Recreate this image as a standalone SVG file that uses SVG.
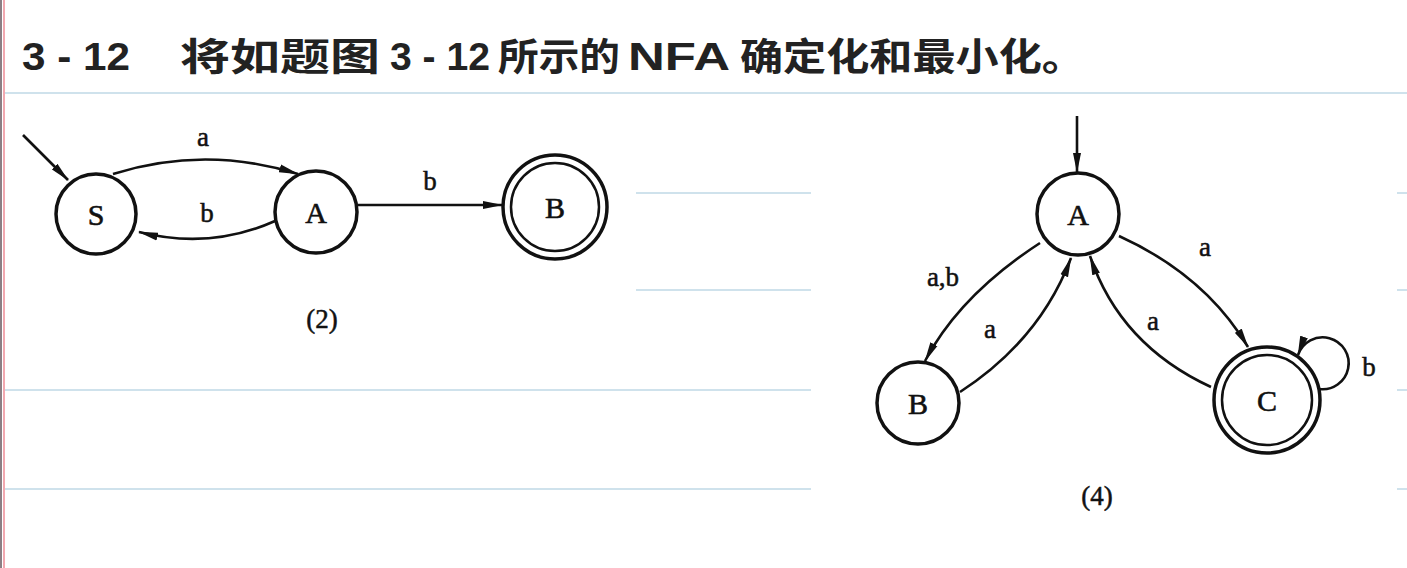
<svg xmlns="http://www.w3.org/2000/svg" width="1407" height="568" viewBox="0 0 1407 568">
<defs>
<marker id="arr" viewBox="0 0 20 9" refX="19" refY="4.5" markerWidth="20" markerHeight="9" orient="auto" markerUnits="userSpaceOnUse"><path d="M0,0.5 L20,4.5 L0,8.5 z" fill="#111"/></marker>
<style>
.st{fill:#fff;stroke:#111;stroke-width:3.5}
.st2{fill:none;stroke:#111;stroke-width:2.5}
.e{fill:none;stroke:#111;stroke-width:2.6;marker-end:url(#arr)}
.lb{font-family:"Liberation Serif",serif;font-size:30px;fill:#111;stroke:#111;stroke-width:0.6;text-anchor:middle}
.el{font-family:"Liberation Serif",serif;font-size:27px;fill:#111;stroke:#111;stroke-width:0.5;text-anchor:middle}
.ti{font-family:"Liberation Sans","Noto Sans CJK SC",sans-serif;font-size:38px;font-weight:bold;fill:#222}
.rule{stroke:#cfe2ec;stroke-width:2}
</style>
</defs>
<rect width="1407" height="568" fill="#fff"/>
<g id="background">
<rect x="0" y="0" width="2" height="568" fill="#8c7f84"/>
<rect x="3" y="0" width="2" height="568" fill="#f2a8b0"/>
<line class="rule" x1="5" y1="93" x2="1407" y2="93"/>
<line class="rule" x1="636" y1="193" x2="811" y2="193"/>
<line class="rule" x1="636" y1="290" x2="811" y2="290"/>
<line class="rule" x1="5" y1="390" x2="811" y2="390"/>
<line class="rule" x1="5" y1="489" x2="811" y2="489"/>
<line class="rule" x1="1397" y1="193" x2="1407" y2="193"/>
<line class="rule" x1="1397" y1="290" x2="1407" y2="290"/>
<line class="rule" x1="1397" y1="390" x2="1407" y2="390"/>
<line class="rule" x1="1397" y1="489" x2="1407" y2="489"/>
</g>
<g id="title">
<text class="ti" x="22" y="70" textLength="108" lengthAdjust="spacingAndGlyphs">3 - 12</text>
<text class="ti" x="180" y="70" textLength="200" lengthAdjust="spacingAndGlyphs">将如题图</text>
<text class="ti" x="390" y="70" textLength="100" lengthAdjust="spacingAndGlyphs">3 - 12</text>
<text class="ti" x="498" y="70" textLength="122" lengthAdjust="spacingAndGlyphs">所示的</text>
<text class="ti" x="628" y="70" textLength="102" lengthAdjust="spacingAndGlyphs">NFA</text>
<text class="ti" x="740" y="70" textLength="345" lengthAdjust="spacingAndGlyphs">确定化和最小化。</text>
</g>
<g id="connectors">
<path class="e" d="M23,135 L68,180"/>
<path class="e" d="M113,174 Q205,145 298,174"/>
<path class="e" d="M275,221 Q210,250 139,232"/>
<path class="e" d="M358,205 L502,205"/>
<path class="e" d="M1077,116 L1077,172"/>
<path class="e" d="M1040,243 Q960,295 925,361"/>
<path class="e" d="M960,392 Q1040,340 1071,258"/>
<path class="e" d="M1119,236 Q1205,275 1248,347"/>
<path class="e" d="M1211,387 Q1120,345 1090,256"/>
<path class="e" d="M1319,389 A26,26 0 1 0 1298,355"/>
</g>
<g id="edge-labels">
<text class="el" x="203" y="146">a</text>
<text class="el" x="207" y="222">b</text>
<text class="el" x="430" y="190">b</text>
<text class="el" x="943" y="286">a,b</text>
<text class="el" x="990" y="338">a</text>
<text class="el" x="1153" y="330">a</text>
<text class="el" x="1205" y="256">a</text>
<text class="el" x="1369" y="376">b</text>
</g>
<g id="node-S"><circle class="st" cx="96" cy="214" r="40"/><text class="lb" x="96" y="225">S</text></g>
<g id="node-A1"><circle class="st" cx="316" cy="212" r="41"/><text class="lb" x="316" y="223">A</text></g>
<g id="node-B1"><circle class="st" cx="555" cy="207" r="52"/><circle class="st2" cx="555" cy="207" r="44"/><text class="lb" x="555" y="218">B</text></g>
<g id="node-A2"><circle class="st" cx="1078" cy="214" r="41"/><text class="lb" x="1078" y="225">A</text></g>
<g id="node-B2"><circle class="st" cx="918" cy="403" r="41"/><text class="lb" x="918" y="414">B</text></g>
<g id="node-C"><circle class="st" cx="1267" cy="400" r="53"/><circle class="st2" cx="1267" cy="400" r="45"/><text class="lb" x="1267" y="411">C</text></g>
<g id="captions">
<text class="el" x="322" y="328">(2)</text>
<text class="el" x="1097" y="505">(4)</text>
</g>
</svg>
